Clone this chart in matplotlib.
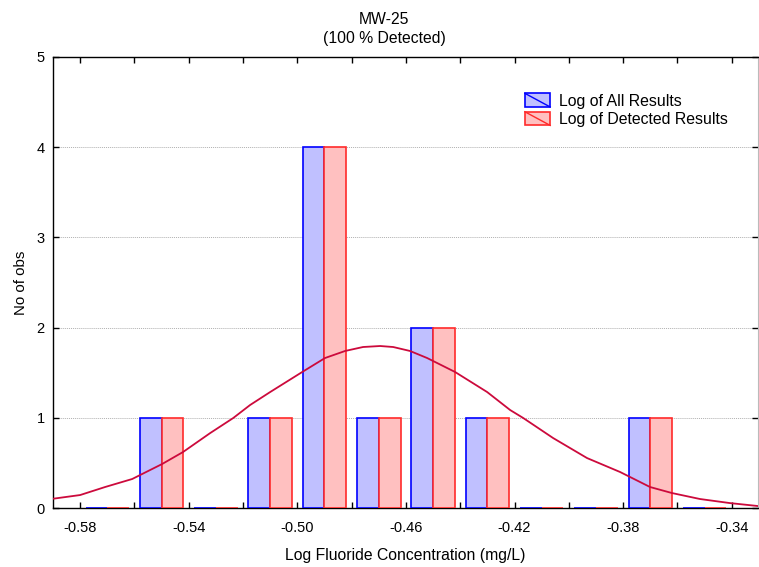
import matplotlib
matplotlib.use("Agg")
import matplotlib.pyplot as plt
from matplotlib.legend_handler import HandlerPatch
from matplotlib.patches import Rectangle
from matplotlib.lines import Line2D

plt.rcParams['font.family'] = ['Liberation Sans', 'DejaVu Sans']

# Histogram bins (centres) and counts
bin_centers = [-0.57, -0.55, -0.53, -0.51, -0.49, -0.47, -0.45, -0.43, -0.41, -0.39, -0.37, -0.35]
all_counts = [0, 1, 0, 1, 4, 1, 2, 1, 0, 0, 1, 0]
detected_counts = [0, 1, 0, 1, 4, 1, 2, 1, 0, 0, 1, 0]

# Expected normal curve
curve_x = [-0.590, -0.580, -0.5708, -0.5608, -0.5579, -0.5498, -0.5421, -0.5321, -0.5236,
           -0.5174, -0.5100, -0.4982, -0.4898, -0.4824, -0.4758, -0.4695, -0.4647, -0.4585,
           -0.4522, -0.4419, -0.4301, -0.4216, -0.4168, -0.4058, -0.3933, -0.3811, -0.3701,
           -0.3620, -0.3517, -0.3407, -0.3303]
curve_y = [0.103, 0.144, 0.233, 0.322, 0.366, 0.488, 0.621, 0.831, 0.998,
           1.142, 1.286, 1.508, 1.663, 1.741, 1.785, 1.796, 1.785, 1.741,
           1.663, 1.508, 1.286, 1.086, 0.998, 0.776, 0.554, 0.399, 0.233,
           0.166, 0.100, 0.055, 0.022]

x_major = [-0.58, -0.54, -0.50, -0.46, -0.42, -0.38, -0.34]
x_minor = [-0.56, -0.52, -0.48, -0.44, -0.40, -0.36]
x_labels = ['-0.58', '-0.54', '-0.50', '-0.46', '-0.42', '-0.38', '-0.34']

BLUE_FACE = '#c0c0ff'
RED_FACE = '#ffc0c0'
BAR_W = 0.008


# Legend handle: filled box with one diagonal line, like the original
class DiagHandler(HandlerPatch):
    def create_artists(self, legend, orig_handle, xdescent, ydescent, width, height, fontsize, trans):
        rect = Rectangle((-xdescent, -ydescent), width, height,
                         facecolor=orig_handle.get_facecolor(),
                         edgecolor=orig_handle.get_edgecolor(), lw=1.2, transform=trans)
        diag = Line2D([-xdescent, -xdescent + width], [-ydescent + height, -ydescent],
                      color=orig_handle.get_edgecolor(), lw=1.0, transform=trans)
        return [rect, diag]


fig = plt.figure(figsize=(7.59, 5.67), dpi=100)
ax = fig.add_axes([0.0698, 0.104, 0.929, 0.7955])

left = [c - BAR_W for c in bin_centers]
b1 = ax.bar(left, all_counts, width=BAR_W, align='edge', color=BLUE_FACE,
            edgecolor='#0000ff', linewidth=1.2, zorder=2.6, label='Log of All Results')
b2 = ax.bar(bin_centers, detected_counts, width=BAR_W, align='edge', color=RED_FACE,
            edgecolor='#ff2a2a', linewidth=1.2, zorder=2.6, label='Log of Detected Results')
ax.plot(curve_x, curve_y, color='#cc0a3c', lw=1.3, zorder=3)

ax.set_xlim(-0.590, -0.3303)
ax.set_ylim(0, 5)
ax.set_xticks(x_major)
ax.set_xticks(x_minor, minor=True)
ax.set_xticklabels(x_labels)
ax.set_yticks([0, 1, 2, 3, 4, 5])
ax.tick_params(axis='both', which='both', direction='in', top=True, right=True,
               labelsize=10.5, length=4, width=1)
ax.tick_params(axis='x', pad=9)
ax.tick_params(axis='y', pad=6)

ax.grid(axis='y', linestyle=(0, (1, 1)), color='#b0b0b0', lw=0.7, zorder=0)
ax.set_axisbelow(True)
for s in ['left', 'top', 'bottom']:
    ax.spines[s].set_linewidth(1.0)
ax.spines['right'].set_color('#bbbbbb')

fig.text(384 / 759, 1 - 19 / 567, 'MW-25', ha='center', va='center', fontsize=11.3)
fig.text(384 / 759, 1 - 39 / 567, '(100 % Detected)', ha='center', va='center', fontsize=11.3)
ax.set_xlabel('Log Fluoride Concentration (mg/L)', fontsize=11.3, labelpad=10)
ax.set_ylabel('No of obs', fontsize=10.8, labelpad=6)

ax.legend(handles=[b1.patches[0], b2.patches[0]],
          labels=['Log of All Results', 'Log of Detected Results'],
          handler_map={Rectangle: DiagHandler()},
          loc='upper left', bbox_to_anchor=(0.658, 0.937), frameon=False,
          fontsize=11.4, handlelength=1.6, handleheight=0.95, handletextpad=0.55,
          labelspacing=0.2, borderpad=0)

fig.savefig('out.png', dpi=100)
